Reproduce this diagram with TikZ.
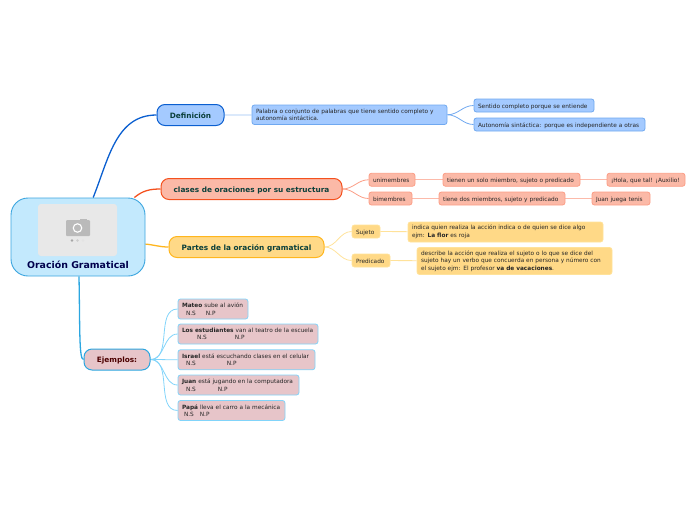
\documentclass[tikz,border=0pt]{standalone}
\usepackage{fontspec}
\setmainfont{DejaVu Sans}
\usetikzlibrary{positioning}
\usetikzlibrary{backgrounds}
\definecolor{rootfill}{HTML}{C3E9FD}
\definecolor{rootline}{HTML}{3BA5DF}
\definecolor{bluefill}{HTML}{A4CAFF}
\definecolor{blueline}{HTML}{0B5FD0}
\definecolor{bluesoft}{HTML}{6FA8F0}
\definecolor{redfill}{HTML}{FBB9A7}
\definecolor{redline}{HTML}{F4511E}
\definecolor{redsoft}{HTML}{FB9D85}
\definecolor{yelfill}{HTML}{FFD987}
\definecolor{yelline}{HTML}{FFB61E}
\definecolor{yelsoft}{HTML}{FFE29A}
\definecolor{rosefill}{HTML}{E7C5C9}
\definecolor{cyanline}{HTML}{2BA6E0}
\definecolor{cyansoft}{HTML}{81D4FA}
\definecolor{greentext}{HTML}{0A3F3A}
\tikzset{
  branch/.style={draw,line width=1pt,rounded corners=8pt,inner sep=0pt,align=center,text height=6pt,text depth=0pt,
    font=\fontsize{7.35}{8}\selectfont\bfseries,text=greentext},
  leaf/.style={draw,line width=0.8pt,rounded corners=2.5pt,inner xsep=4pt,inner ysep=0pt,align=left,
    font=\fontsize{5.8}{7.5}\selectfont,text=black!85},
  oneline/.style={minimum height=13pt,text height=5pt,text depth=0pt},
  bluebox/.style={leaf,fill=bluefill,draw=bluesoft},
  redbox/.style={leaf,fill=redfill,draw=redsoft},
  yelbox/.style={leaf,fill=yelfill,draw=yelsoft},
  rosebox/.style={leaf,fill=rosefill,draw=cyansoft},
  wire/.style={line width=0.8pt},
  main/.style={line width=1.3pt}
}
\begin{document}
\begin{tikzpicture}[x=1pt,y=-1pt]
\useasboundingbox (0,0) rectangle (696,520);

\node[draw=rootline,fill=rootfill,line width=0.9pt,rounded corners=17pt,minimum width=134pt,minimum height=78pt,inner sep=0pt](root) at (78,237){};
\node[fill=black!9,rounded corners=3pt,minimum width=79pt,minimum height=52pt,inner sep=0pt](foto) at (77.5,230){};
\node[font=\fontsize{9.4}{11}\selectfont\bfseries,text=blue!30!black,inner sep=0pt](titulo) at (78,264.5){Oración Gramatical};

\node[branch,fill=bluefill,draw=blueline,minimum width=67pt,minimum height=21pt](def) at (190.5,115){Definición};
\node[branch,fill=redfill,draw=redline,minimum width=181pt,minimum height=21pt](clases) at (251.5,189){clases de oraciones por su estructura};
\node[branch,fill=yelfill,draw=yelline,minimum width=155pt,minimum height=21pt](partes) at (246.5,247){Partes de la oración gramatical};
\node[branch,fill=rosefill,draw=cyanline,text=red!30!black,minimum width=66pt,minimum height=21pt](ejemplos) at (117,359.5){Ejemplos:};

\node[bluebox,text width=187pt,minimum height=19.5pt](palabra) at (349.5,114.75){Palabra o conjunto de palabras que tiene sentido completo y\\autonomía sintáctica.};
\node[bluebox,oneline,text width=112pt](sentido) at (534,105.5){Sentido completo porque se entiende};
\node[bluebox,oneline,text width=163pt](autonomia) at (559.5,124.5){Autonomía sintáctica: porque es independiente a otras};

\node[redbox,oneline,text width=38pt](uni) at (392,179.75){unimembres};
\node[redbox,oneline,text width=129pt](tienen) at (511.5,179.75){tienen un solo miembro, sujeto o predicado};
\node[redbox,oneline,text width=70pt](hola) at (646,179.75){¡Hola, que tal! ¡Auxilio!};
\node[redbox,oneline,text width=35pt](bi) at (390.5,198.5){bimembres};
\node[redbox,oneline,text width=118pt](tiene) at (502,198.5){tiene dos miembros, sujeto y predicado};
\node[redbox,oneline,text width=50pt](juan) at (621,198.5){Juan juega tenis};

\node[yelbox,oneline,text width=20pt](sujeto) at (366,231.5){Sujeto};
\node[yelbox,text width=187pt,minimum height=20pt](indica) at (505.5,232){indica quien realiza la acción indica o de quien se dice algo\\ejm: \textbf{La flor} es roja};
\node[yelbox,oneline,text width=30pt](predicado) at (371,260.5){Predicado};
\node[yelbox,text width=187pt,minimum height=27pt](describe) at (514.5,261){describe la acción que realiza el sujeto o lo que se dice del\\sujeto  hay un verbo que concuerda en persona y número con\\el sujeto ejm: El profesor \textbf{va de vacaciones}.};

\node[rosebox,text width=62pt,minimum height=20pt](mateo) at (213,309){\textbf{Mateo} sube al avión\\\hspace*{4pt}N.S\hspace{10pt}N.P};
\node[rosebox,text width=132pt,minimum height=20pt](estudiantes) at (248,334){\textbf{Los estudiantes} van al teatro de la escuela\\\hspace*{15pt}N.S\hspace{28pt}N.P};
\node[rosebox,text width=129pt,minimum height=20pt](israel) at (246.5,359.75){\textbf{Israel} está escuchando clases en el celular\\\hspace*{4pt}N.S\hspace{31pt}N.P};
\node[rosebox,text width=113pt,minimum height=20pt](juanito) at (238.5,385){\textbf{Juan} está jugando en la computadora\\\hspace*{4pt}N.S\hspace{22pt}N.P};
\node[rosebox,text width=99pt,minimum height=20pt](papa) at (231.5,410.5){\textbf{Papá} lleva el carro a la mecánica\\\hspace*{2pt}N.S\hspace{6pt}N.P};

% camera
\fill[black!27,rounded corners=1pt](66,220) rectangle (90,236);
\fill[black!27](80,219) rectangle (87,221);
\node[draw=white,line width=1.1pt,circle,minimum size=8.5pt,inner sep=0pt](lente) at (77.5,228){};
\fill[black!35](72,240.5) circle (1.4pt);
\fill[black!20](77.5,240.5) circle (1.4pt);
\fill[black!11](83,240.5) circle (1.4pt);

\begin{pgfonlayer}{background}
\path[main]
(root.69) edge[draw=blueline,out=68,in=180] (def.west)
(root.35) edge[draw=redline,out=40,in=180] (clases.west)
(root.-6) edge[draw=yelline,out=-5,in=180] (partes.west)
(root.south) ++(1,0) coordinate(bajada);
\draw[main,draw=cyanline] (bajada) .. controls (80,330) and (79,359.5) .. (ejemplos.west);

\path[wire]
(def) edge[draw=bluesoft!70] (palabra)
(palabra.east) edge[draw=bluesoft,out=0,in=180] (sentido.west)
(palabra.east) edge[draw=bluesoft,out=0,in=180] (autonomia.west)

(clases.east) edge[draw=redsoft,out=0,in=180] (uni.west)
(clases.east) edge[draw=redsoft,out=0,in=180] (bi.west)
(uni) edge[draw=redsoft!70] (tienen)
(tienen) edge[draw=redsoft!70] (hola)
(bi) edge[draw=redsoft!70] (tiene)
(tiene) edge[draw=redsoft!70] (juan)

(partes.east) edge[draw=yelsoft,out=0,in=180] (sujeto.west)
(partes.east) edge[draw=yelsoft,out=0,in=180] (predicado.west)
(sujeto) edge[draw=yelsoft] (indica)
(predicado) edge[draw=yelsoft] (describe)

(ejemplos.east) edge[draw=cyansoft,out=0,in=180] (mateo.west)
(ejemplos.east) edge[draw=cyansoft,out=0,in=180] (estudiantes.west)
(ejemplos.east) edge[draw=cyansoft,out=0,in=180] (israel.west)
(ejemplos.east) edge[draw=cyansoft,out=0,in=180] (juanito.west)
(ejemplos.east) edge[draw=cyansoft,out=0,in=180] (papa.west);
\end{pgfonlayer}
\end{tikzpicture}
\end{document}
